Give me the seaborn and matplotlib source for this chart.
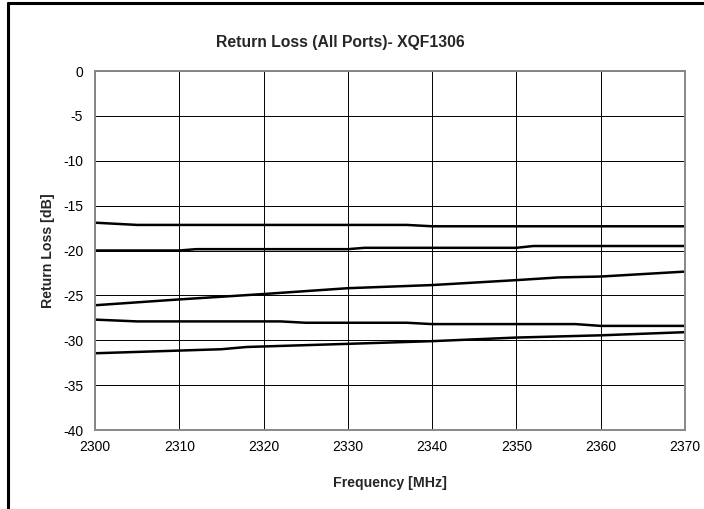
import pandas as pd
import matplotlib.pyplot as plt
import seaborn as sns
from matplotlib.lines import Line2D

# one list per port
freq_1 = [2300, 2305, 2337, 2340, 2370]
loss_1 = [-16.9, -17.15, -17.15, -17.3, -17.3]

freq_2 = [2300, 2310, 2312, 2330, 2332, 2350, 2352, 2370]
loss_2 = [-20.0, -20.0, -19.85, -19.85, -19.7, -19.7, -19.5, -19.5]

freq_3 = [2300, 2310, 2320, 2330, 2340, 2350, 2355, 2360, 2370]
loss_3 = [-26.1, -25.45, -24.85, -24.2, -23.85, -23.3, -23.0, -22.9, -22.35]

freq_4 = [2300, 2305, 2322, 2325, 2337, 2340, 2357, 2360, 2370]
loss_4 = [-27.7, -27.9, -27.9, -28.05, -28.05, -28.2, -28.2, -28.4, -28.4]

freq_5 = [2300, 2310, 2315, 2318, 2330, 2340, 2350, 2360, 2370]
loss_5 = [-31.45, -31.15, -31.0, -30.75, -30.4, -30.1, -29.7, -29.45, -29.1]

x_ticks = [2300, 2310, 2320, 2330, 2340, 2350, 2360, 2370]
y_ticks = [0, -5, -10, -15, -20, -25, -30, -35, -40]

frames = []
for i, (f, l) in enumerate([(freq_1, loss_1), (freq_2, loss_2), (freq_3, loss_3),
                            (freq_4, loss_4), (freq_5, loss_5)]):
    frames.append(pd.DataFrame({'freq': f, 'loss': l, 'port': f'P{i + 1}'}))
df = pd.concat(frames, ignore_index=True)

sns.set_style('white')
plt.rcParams['font.family'] = ['Liberation Sans', 'DejaVu Sans']
plt.rcParams['axes.unicode_minus'] = False

fig = plt.figure(figsize=(7.04, 5.09), dpi=100)
ax = fig.add_axes([0.1349, 0.1552, 0.973 - 0.1349, 0.8605 - 0.1552])

sns.lineplot(data=df, x='freq', y='loss', hue='port', palette=['black'] * 5,
             linewidth=1.8, legend=False, ax=ax, sort=False, estimator=None)

ax.set_xlim(2300, 2370)
ax.set_ylim(-40, 0)
ax.set_xticks(x_ticks)
ax.set_yticks(y_ticks)
ax.tick_params(axis='both', length=0, labelsize=10, colors='black')
ax.tick_params(axis='y', pad=8.5)
ax.tick_params(axis='x', pad=7)
ax.grid(True, color='black', linewidth=0.7)
for s in ax.spines.values():
    s.set_color('#888888')
    s.set_linewidth(1.4)

ax.set_title('Return Loss (All Ports)- XQF1306', fontsize=11.3, fontweight='bold',
             pad=17, x=(340 - 95) / 590)
ax.set_xlabel('Frequency [MHz]', fontsize=10.2, fontweight='bold', labelpad=16)
ax.set_ylabel('Return Loss [dB]', fontsize=10.2, fontweight='bold', labelpad=6)

# page border left and top
fig.add_artist(Line2D([8 / 704, 8 / 704], [0, 1 - 3 / 509], color='black', linewidth=2.2,
                      transform=fig.transFigure))
fig.add_artist(Line2D([8 / 704, 1], [1 - 3 / 509, 1 - 3 / 509], color='black', linewidth=2.2,
                      transform=fig.transFigure))

fig.savefig('out.png', dpi=100)
